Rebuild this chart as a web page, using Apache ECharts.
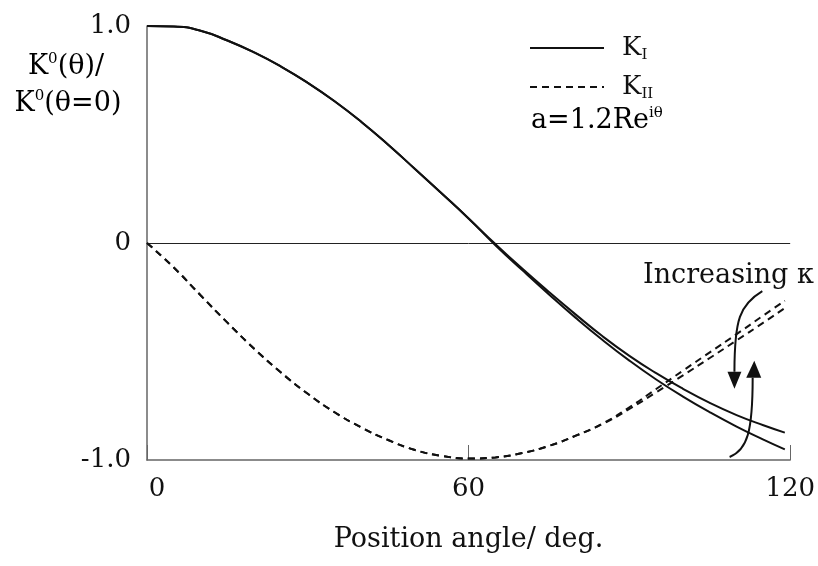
<!DOCTYPE html>
<html>
<head>
<meta charset="utf-8">
<script src="https://cdn.jsdelivr.net/npm/echarts@6/dist/echarts.min.js"></script>
<style>
  html, body { margin: 0; padding: 0; background: #ffffff; }
  #chart { width: 818px; height: 566px; }
</style>
</head>
<body>
<div id="chart"></div>
<script>
// Position angle (deg.)
const angles = [0, 5, 10, 15, 20, 25, 30, 35, 40, 45, 50, 55, 60, 65, 70, 75, 80, 85, 90, 95, 100, 105, 110, 115, 119];

// Normalised mode-I factor, lower and higher kappa
const kIlowKappa  = [1.0, 0.998, 0.978, 0.933, 0.878, 0.813, 0.738, 0.653, 0.558, 0.453, 0.341, 0.228, 0.113, -0.01, -0.125, -0.237, -0.345, -0.447, -0.542, -0.629, -0.708, -0.780, -0.846, -0.906, -0.951];
const kIhighKappa = [1.0, 0.998, 0.978, 0.933, 0.878, 0.813, 0.738, 0.653, 0.558, 0.453, 0.341, 0.228, 0.113, -0.005, -0.118, -0.226, -0.330, -0.430, -0.520, -0.600, -0.672, -0.737, -0.793, -0.840, -0.874];

// Normalised mode-II factor, lower and higher kappa
const kIIlowKappa  = [0, -0.113, -0.241, -0.367, -0.487, -0.597, -0.695, -0.780, -0.850, -0.908, -0.954, -0.981, -0.993, -0.988, -0.968, -0.935, -0.888, -0.832, -0.757, -0.673, -0.588, -0.504, -0.420, -0.334, -0.266];
const kIIhighKappa = [0, -0.113, -0.241, -0.367, -0.487, -0.597, -0.695, -0.780, -0.850, -0.908, -0.954, -0.981, -0.993, -0.988, -0.968, -0.935, -0.888, -0.834, -0.765, -0.688, -0.610, -0.530, -0.449, -0.367, -0.300];

// Axis ticks
const xTicks = [0, 60, 120];
const yTicks = [-1, 0, 1];
const yTickLabels = ['-1.0', '0', '1.0'];

// "Increasing kappa" arrows, in (angle, value) units
const arrowDownCurve = [[114.8, -0.222], [110.6, -0.284], [109.6, -0.353], [109.6, -0.593]];
const arrowDownHead  = [[108.3, -0.593], [110.9, -0.593], [109.6, -0.672]];
const arrowUpCurve   = [[108.7, -0.986], [112.0, -0.954], [113.0, -0.870], [113.0, -0.621]];
const arrowUpHead    = [[111.8, -0.621], [114.6, -0.621], [113.3, -0.543]];

const FONT = 'DejaVu Serif';
const INK = '#111111';

const pairs = ys => angles.map((a, i) => [a, ys[i]]);

const chart = echarts.init(document.getElementById('chart'), null, { renderer: 'canvas' });

const solid = { type: 'solid', width: 2, color: INK };
const dashed = { type: [7, 5], width: 2, color: INK };

function lineSeries(name, ys, style, extra) {
  return Object.assign({
    name: name,
    type: 'line',
    data: pairs(ys),
    smooth: 0.5,
    symbol: 'none',
    lineStyle: style,
    itemStyle: { color: INK },
    silent: true,
    z: 3
  }, extra || {});
}

const richMain = {
  k: { fontFamily: FONT, fontSize: 27, color: INK, lineHeight: 30 },
  sub: { fontFamily: FONT, fontSize: 15, color: INK, lineHeight: 18, verticalAlign: 'bottom' },
  sup: { fontFamily: FONT, fontSize: 15, color: INK, lineHeight: 18, verticalAlign: 'top' }
};

chart.setOption({
  animation: false,
  backgroundColor: '#ffffff',
  grid: { left: 147, right: 23, top: 26, bottom: 106, containLabel: false },
  legend: {
    orient: 'vertical',
    left: 524,
    top: 30,
    itemWidth: 74,
    itemHeight: 28,
    itemGap: 11,
    data: ['K_I', 'K_II'],
    selectedMode: false,
    itemStyle: { opacity: 0 },
    formatter: n => n === 'K_I' ? '{pk|K}{sub|I}' : '{pk|K}{sub|II}',
    textStyle: {
      rich: Object.assign({
        pk: { fontFamily: FONT, fontSize: 26, color: INK, lineHeight: 30, padding: [0, 0, 0, 13] }
      }, richMain)
    }
  },
  xAxis: {
    type: 'value',
    min: 0,
    max: 120,
    interval: 60,
    name: 'Position angle/ deg.',
    nameLocation: 'middle',
    nameGap: 66,
    nameTextStyle: { fontFamily: FONT, fontSize: 27, color: INK },
    axisLine: { show: true, onZero: false, lineStyle: { color: '#666666', width: 1.5 } },
    axisTick: { show: true, inside: true, length: 15, lineStyle: { color: '#666666', width: 1 } },
    splitLine: { show: false },
    axisLabel: {
      margin: 16,
      customValues: xTicks,
      formatter: v => v === 0 ? '{z|0}' : '{n|' + v + '}',
      rich: {
        z: { fontFamily: FONT, fontSize: 26, color: INK, padding: [0, 0, 0, 20] },
        n: { fontFamily: FONT, fontSize: 26, color: INK }
      }
    }
  },
  yAxis: {
    type: 'value',
    min: -1,
    max: 1,
    interval: 1,
    axisLine: { show: true, onZero: false, lineStyle: { color: '#666666', width: 1.5 } },
    axisTick: { show: false },
    splitLine: { show: false },
    axisLabel: {
      margin: 16,
      fontFamily: FONT,
      fontSize: 26,
      color: INK,
      formatter: v => yTickLabels[yTicks.indexOf(Math.round(v))]
    }
  },
  series: [
    lineSeries('K_I', kIlowKappa, solid, {
      markLine: {
        silent: true,
        symbol: 'none',
        label: { show: false },
        lineStyle: { type: 'solid', color: '#222222', width: 1 },
        data: [{ yAxis: 0 }],
        z: 2
      }
    }),
    lineSeries('K_I', kIhighKappa, solid),
    lineSeries('K_II', kIIlowKappa, dashed),
    lineSeries('K_II', kIIhighKappa, dashed)
  ]
});

// Annotations placed through the grid's coordinate system
const px = p => chart.convertToPixel({ gridIndex: 0 }, p);

function curveShape(pts) {
  const [a, b, c, d] = pts.map(px);
  return { x1: a[0], y1: a[1], cpx1: b[0], cpy1: b[1], cpx2: c[0], cpy2: c[1], x2: d[0], y2: d[1] };
}

chart.setOption({
  graphic: [
    {
      type: 'text', x: 66, y: 67, silent: true,
      style: { text: '{k|K}{sup|0}{k|(θ)/}', rich: richMain, align: 'center', verticalAlign: 'middle' }
    },
    {
      type: 'text', x: 68, y: 104, silent: true,
      style: { text: '{k|K}{sup|0}{k|(θ=0)}', rich: richMain, align: 'center', verticalAlign: 'middle' }
    },
    {
      type: 'text', x: 531, y: 121, silent: true,
      style: { text: '{k|a=1.2Re}{sup|iθ}', rich: richMain, align: 'left', verticalAlign: 'middle' }
    },
    {
      type: 'text', x: 643, y: 276, silent: true,
      style: { text: 'Increasing κ', fontFamily: FONT, fontSize: 27, fill: INK, align: 'left', verticalAlign: 'middle' }
    },
    {
      type: 'bezierCurve', silent: true, z: 10,
      shape: curveShape(arrowDownCurve),
      style: { stroke: INK, lineWidth: 2, fill: null }
    },
    {
      type: 'polygon', silent: true, z: 10,
      shape: { points: arrowDownHead.map(px) },
      style: { fill: INK }
    },
    {
      type: 'bezierCurve', silent: true, z: 10,
      shape: curveShape(arrowUpCurve),
      style: { stroke: INK, lineWidth: 2, fill: null }
    },
    {
      type: 'polygon', silent: true, z: 10,
      shape: { points: arrowUpHead.map(px) },
      style: { fill: INK }
    }
  ]
});
</script>
</body>
</html>
